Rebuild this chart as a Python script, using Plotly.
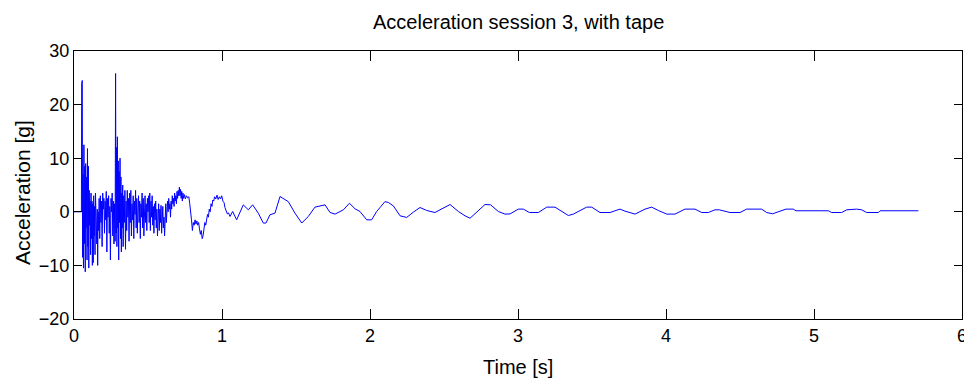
import plotly.graph_objects as go

# ---- data ----
time_s = [
    0.000, 0.050, 0.052, 0.056, 0.058, 0.061, 0.064, 0.067, 0.070, 0.073,
    0.076, 0.079, 0.082, 0.085, 0.088, 0.091, 0.094, 0.097, 0.100, 0.103,
    0.106, 0.109, 0.112, 0.115, 0.118, 0.121, 0.124, 0.127, 0.130, 0.133,
    0.136, 0.139, 0.142, 0.145, 0.148, 0.151, 0.154, 0.157, 0.160, 0.163,
    0.166, 0.170, 0.174, 0.178, 0.182, 0.186, 0.190, 0.194, 0.198, 0.202,
    0.206, 0.210, 0.214, 0.218, 0.222, 0.226, 0.230, 0.234, 0.238, 0.242,
    0.246, 0.250, 0.254, 0.258, 0.262, 0.266, 0.270, 0.274, 0.278, 0.281,
    0.284, 0.287, 0.290, 0.293, 0.296, 0.299, 0.302, 0.305, 0.308, 0.311,
    0.314, 0.317, 0.320, 0.323, 0.326, 0.329, 0.332, 0.336, 0.340, 0.344,
    0.348, 0.352, 0.356, 0.360, 0.364, 0.368, 0.372, 0.376, 0.380, 0.384,
    0.388, 0.392, 0.396, 0.400, 0.404, 0.408, 0.412, 0.416, 0.420, 0.424,
    0.428, 0.432, 0.436, 0.440, 0.444, 0.448, 0.452, 0.456, 0.460, 0.464,
    0.468, 0.472, 0.476, 0.480, 0.484, 0.488, 0.492, 0.496, 0.500, 0.504,
    0.508, 0.512, 0.516, 0.520, 0.524, 0.528, 0.532, 0.536, 0.540, 0.544,
    0.548, 0.552, 0.556, 0.560, 0.564, 0.568, 0.572, 0.576, 0.580, 0.584,
    0.588, 0.592, 0.596, 0.600, 0.604, 0.608, 0.612, 0.616, 0.620, 0.624,
    0.628, 0.632, 0.636, 0.640, 0.644, 0.648, 0.652, 0.656, 0.660, 0.664,
    0.668, 0.672, 0.676, 0.680, 0.684, 0.688, 0.692, 0.696, 0.700, 0.704,
    0.708, 0.712, 0.716, 0.720, 0.724, 0.728, 0.732, 0.736, 0.740, 0.746,
    0.752, 0.760, 0.768, 0.776, 0.782, 0.788, 0.794, 0.800, 0.806, 0.812,
    0.818, 0.824, 0.830, 0.836, 0.842, 0.848, 0.854, 0.860, 0.866, 0.872,
    0.878, 0.884, 0.890, 0.896, 0.902, 0.908, 0.914, 0.920, 0.926, 0.932,
    0.938, 0.944, 0.950, 0.958, 0.966, 0.974, 0.982, 0.990, 0.998, 1.006,
    1.014, 1.020, 1.028, 1.036, 1.044, 1.054, 1.072, 1.099, 1.144, 1.178,
    1.207, 1.245, 1.279, 1.297, 1.324, 1.358, 1.392, 1.426, 1.448, 1.493,
    1.539, 1.583, 1.628, 1.696, 1.730, 1.764, 1.820, 1.861, 1.899, 1.932,
    1.978, 2.011, 2.045, 2.068, 2.101, 2.124, 2.158, 2.203, 2.248, 2.293,
    2.338, 2.383, 2.439, 2.541, 2.597, 2.642, 2.676, 2.777, 2.815, 2.867,
    2.912, 2.946, 3.002, 3.036, 3.077, 3.138, 3.194, 3.250, 3.290, 3.340,
    3.374, 3.419, 3.464, 3.498, 3.554, 3.622, 3.655, 3.689, 3.723, 3.791,
    3.858, 3.903, 3.948, 4.005, 4.061, 4.128, 4.196, 4.241, 4.286, 4.331,
    4.360, 4.399, 4.432, 4.500, 4.545, 4.646, 4.680, 4.720, 4.766, 4.811,
    4.860, 4.878, 5.097, 5.119, 5.187, 5.221, 5.288, 5.322, 5.356, 5.435,
    5.446, 5.705,
]

accel_g = [
    0.0, 0.0, 24.0, 24.5, -8.5, 7.0, -10.5, 12.5, -6.0, 8.5,
    -11.2, 9.0, -3.0, 6.5, -9.0, 11.8, -6.5, 8.5, -10.5, 4.0,
    -2.5, 2.0, -8.0, 3.5, -5.0, 2.0, -10.0, 1.5, -9.5, 3.0,
    -4.5, 1.0, -8.0, 3.5, -2.0, 1.5, -6.0, 0.5, -10.0, 0.0,
    -3.5, 2.5, -5.0, 3.0, -2.0, 2.0, -6.5, 3.5, 0.5, 2.5,
    -4.0, 2.0, -1.5, 3.8, -7.5, 2.5, -1.0, 3.0, -4.0, 1.0,
    -9.0, 2.5, 0.0, 3.5, -4.5, 2.0, -6.0, 1.5, -5.5, 25.8,
    -4.0, 12.0, -6.5, 14.0, -3.0, 9.5, -9.0, 7.5, -2.0, 10.0,
    -5.0, 6.5, -7.5, 3.5, -3.0, 5.0, -6.5, 3.0, -2.0, 4.0,
    -7.0, 2.0, -3.5, 4.0, -1.0, 2.5, -5.5, 3.5, -2.0, 4.0,
    -4.5, 1.5, -1.5, 3.0, -5.0, 2.0, -0.5, 4.0, -3.0, 2.5,
    -4.0, 0.5, 3.0, -2.0, 2.0, -5.0, 1.5, -1.0, 3.5, -3.0,
    2.5, -4.5, 1.0, 3.0, -2.0, 1.5, -3.5, 2.5, 0.0, 3.0,
    -2.0, 3.5, -3.5, 2.0, -1.0, 3.0, -2.5, 1.0, -4.0, 1.5,
    -1.5, 2.0, -3.0, 0.5, -4.5, -1.0, 1.5, -3.5, 0.5, -2.0,
    1.2, -4.0, -0.5, 1.0, -3.0, -1.0, -4.5, -0.5, 1.5, -2.0,
    -0.5, 2.0, 0.0, 2.5, 0.5, 1.5, -1.0, 2.0, 0.5, 3.0,
    1.5, 2.5, 1.0, 3.5, 2.0, 3.0, 1.5, 3.8, 2.5, 4.0,
    3.0, 4.6, 3.0, 4.2, 2.5, 3.8, 2.0, 3.5, 2.5, 3.2,
    2.4, 3.0, 2.6, 2.8, 1.5, -1.0, -1.5, -3.5, -2.0, -2.5,
    -1.5, -2.3, -1.7, -2.5, -2.0, -3.2, -4.2, -3.5, -5.0, -4.5,
    -3.5, -2.0, -2.5, -1.5, -0.5, -1.0, 0.5, 0.0, 1.5, 1.0,
    2.2, 2.0, 2.8, 2.4, 3.1, 2.3, 2.8, 2.4, 3.0, 2.0,
    1.7, 0.8, 0.2, -0.4, -0.2, -0.87, 0.06, -1.5, 1.3, 0.37,
    1.3, -0.25, -2.1, -2.1, -0.56, -0.25, 2.85, 2.2, 1.9, -0.25,
    -2.1, -0.87, 0.87, 1.3, -0.13, -0.43, 0.37, 1.6, 0.56, 0.06,
    -1.5, -1.5, 0.06, 0.8, 1.9, 1.74, 1.1, -0.75, -1.05, -0.06,
    0.8, 0.25, -0.13, 1.36, 0.06, -0.75, -1.2, 1.36, 1.3, 0.06,
    -0.43, -0.4, 0.5, 0.5, -0.13, -0.13, 0.87, 0.87, 0.15, -0.69,
    -0.43, 0.19, 0.87, 0.87, -0.13, -0.13, 0.25, 0.5, 0.12, -0.43,
    0.5, 0.87, 0.25, -0.43, -0.43, 0.5, 0.5, -0.13, -0.13, 0.37,
    0.37, 0.06, -0.13, -0.13, 0.5, 0.5, -0.13, -0.37, 0.06, 0.5,
    0.5, 0.19, 0.19, -0.13, -0.13, 0.37, 0.5, 0.37, -0.13, -0.13,
    0.19, 0.19,
]

x_ticks = [0, 1, 2, 3, 4, 5, 6]
y_ticks = [-20, -10, 0, 10, 20, 30]

title_text = "Acceleration session 3, with tape"
x_label = "Time [s]"
y_label = "Acceleration [g]"

FONT = "Liberation Sans, Arial, Helvetica, sans-serif"

fig = go.Figure()
fig.add_trace(go.Scatter(
    x=time_s, y=accel_g, mode="lines",
    line=dict(color="#0000FF", width=1),
    hoverinfo="x+y", showlegend=False,
))

axis_common = dict(
    showline=True, linecolor="black", linewidth=1,
    mirror="ticks", ticks="inside", tickcolor="black", tickwidth=1,
    showgrid=False, zeroline=False, ticklabeloverflow="allow",
    tickfont=dict(family=FONT, size=18, color="black"),
)

fig.update_layout(
    width=964, height=381,
    margin=dict(l=74, r=2, t=51, b=62),
    paper_bgcolor="white", plot_bgcolor="white",
    xaxis=dict(range=[0, 6], tickvals=x_ticks, ticklen=10, automargin=False, **axis_common),
    yaxis=dict(range=[-20, 30], tickvals=y_ticks, ticklen=8, automargin=False, **axis_common),
    annotations=[
        dict(text=title_text, xref="paper", yref="paper", x=0.5, y=1, yshift=29,
             showarrow=False, xanchor="center", yanchor="middle",
             font=dict(family=FONT, size=20, color="black")),
        dict(text=x_label, xref="paper", yref="paper", x=0.5, y=0, yshift=-48,
             showarrow=False, xanchor="center", yanchor="middle",
             font=dict(family=FONT, size=20, color="black")),
        dict(text=y_label, xref="paper", yref="paper", x=0, y=0.5, xshift=-52, yshift=-8,
             showarrow=False, xanchor="center", yanchor="middle", textangle=-90,
             font=dict(family=FONT, size=21, color="black")),
    ],
)

fig.write_html(
    "out.html",
    config={"displayModeBar": False},
    post_script="document.body.style.margin='0';document.body.style.overflow='hidden';",
)
